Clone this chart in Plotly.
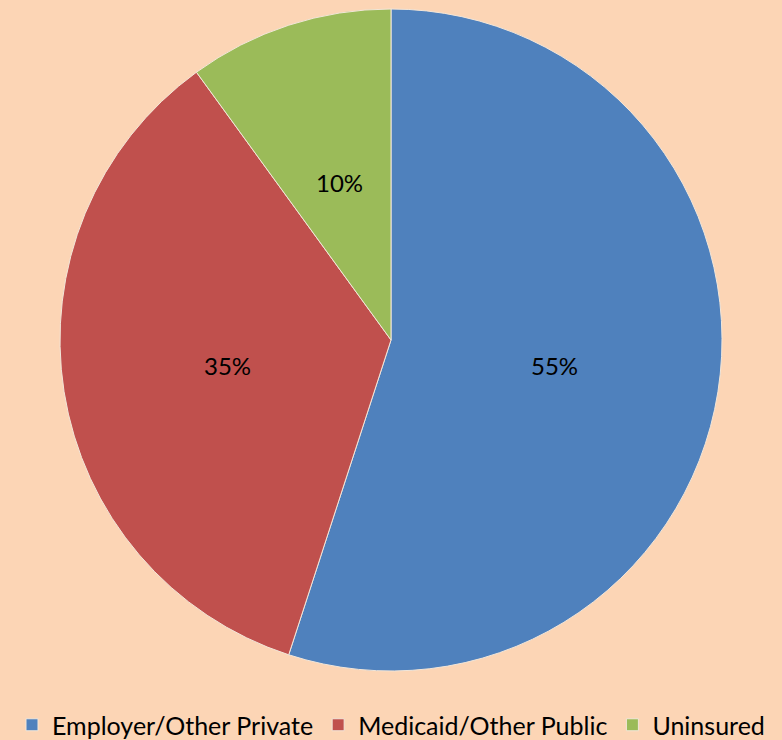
import math
import plotly.graph_objects as go

labels = ["Employer/Other Private", "Medicaid/Other Public", "Uninsured"]
values = [55, 35, 10]
colors = ["#4F81BD", "#C0504D", "#9BBB59"]

W, H = 782, 740
cx, cy, r = 391, 340, 331
FONT = "Lato, Open Sans, sans-serif"

fig = go.Figure(go.Pie(
    labels=labels,
    values=values,
    sort=False,
    direction="clockwise",
    rotation=0,
    marker=dict(colors=colors, line=dict(color="#F2E6D9", width=1)),
    textinfo="none",
    domain=dict(x=[(cx - r) / W, (cx + r) / W], y=[(H - cy - r) / H, (H - cy + r) / H]),
    hoverinfo="label+percent",
))

# Data labels at half radius along each slice's mid-angle (Excel style)
total = sum(values)
cum = 0
for v in values:
    mid = (cum + v / 2) / total
    cum += v
    ang = math.radians(90 - 360 * mid)
    px = cx + 0.5 * r * math.cos(ang)
    py = cy - 0.5 * r * math.sin(ang)
    fig.add_annotation(
        x=px / W, y=1 - py / H, xref="paper", yref="paper",
        text=f"{round(100 * v / total)}%", showarrow=False,
        font=dict(family=FONT, size=24, color="#000000"),
        xanchor="center", yanchor="middle",
    )

fig.update_layout(
    width=W, height=H,
    margin=dict(l=0, r=0, t=0, b=0, autoexpand=False),
    paper_bgcolor="#FCD5B5",
    plot_bgcolor="#FCD5B5",
    showlegend=True,
    legend=dict(
        orientation="h", x=0.5, xanchor="center", y=15 / H, yanchor="middle",
        font=dict(family=FONT, size=25, color="#000000"),
        bgcolor="rgba(0,0,0,0)",
    ),
)

fig.write_html("out.html")
